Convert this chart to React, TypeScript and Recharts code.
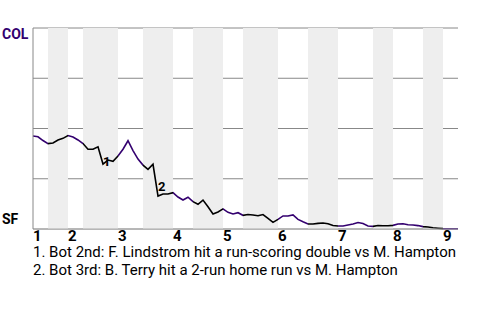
import React from "react";
import {
  LineChart,
  Line,
  XAxis,
  YAxis,
  CartesianGrid,
  ReferenceArea
} from "recharts";

// win probability after each plate appearance (100 = COL wins, 0 = SF wins)
const winProb = [
  46.3, 45.9, 44.0, 42.5, 42.8, 44.3, 45.1, 46.5, 45.8, 44.3,
  42.5, 39.7, 39.7, 40.9, 32.3, 34.3, 33.7, 36.3, 39.7, 43.9,
  39.0, 34.8, 31.8, 29.7, 32.2, 16.4, 17.4, 17.4, 18.1, 15.9,
  14.4, 15.8, 13.6, 12.3, 14.4, 11.1, 7.5, 8.5, 10.0, 8.3,
  7.5, 8.1, 6.8, 7.2, 7.0, 6.6, 7.2, 5.3, 3.3, 4.8,
  6.5, 6.5, 7.0, 4.8, 3.6, 2.5, 2.5, 2.8, 3.0, 2.6,
  1.7, 1.5, 1.5, 2.0, 2.5, 3.2, 2.7, 1.5, 1.3, 1.7,
  1.6, 1.6, 1.8, 2.5, 2.6, 2.1, 2.0, 1.7, 1.2, 1.0,
  0.6, 0.4, 0.2, 0.15, 0.1, 0.1
];

// plate appearance index where each half inning starts (last = end of game)
const halfInnings = [0, 3, 7, 10, 17, 22, 28, 32, 38, 42, 49, 55, 61, 68, 72, 78, 82, 85];
const inningLabels = ["1", "2", "3", "4", "5", "6", "7", "8", "9"];

const noteIndex = [14, 25];
const noteLabels = ["1", "2"];
const footnotes = [
  "1. Bot 2nd: F. Lindstrom hit a run-scoring double vs M. Hampton",
  "2. Bot 3rd: B. Terry hit a 2-run home run vs M. Hampton"
];

const COL = "#33006f";
const SF = "#000000";
const FONT = "Roboto, sans-serif";
const PLOT_H = 201;

const data = winProb.map((v, i) => ({ pa: i, wp: v }));
const lastPa = halfInnings[halfInnings.length - 1];
const inningStarts = halfInnings.filter((_, i) => i % 2 === 0 && i < halfInnings.length - 1);
const bottomHalves = halfInnings
  .slice(0, -1)
  .map((a, i) => ({ a, b: halfInnings[i + 1], bottom: i % 2 === 1 }))
  .filter((h) => h.bottom);

const InningTick = (props: any) => {
  const { x, y, payload } = props;
  const idx = inningStarts.indexOf(payload.value);
  return (
    <text x={x} y={y + 12} textAnchor="start" fontFamily={FONT} fontWeight="bold" fontSize={15} fill="#000">
      {inningLabels[idx]}
    </text>
  );
};

const TeamTick = (props: any) => {
  const { y, payload } = props;
  if (payload.value === 100) {
    return (
      <text x={2} y={y + 11} fontFamily={FONT} fontWeight="bold" fontSize={14} fill={COL}>COL</text>
    );
  }
  if (payload.value === 0) {
    return (
      <text x={2} y={y - 5} fontFamily={FONT} fontWeight="bold" fontSize={14} fill={SF}>SF</text>
    );
  }
  return null;
};

const renderNote = (props: any) => {
  const { x, y, index } = props;
  const n = noteIndex.indexOf(index);
  if (n < 0) return null;
  const prevY = y - ((winProb[index - 1] - winProb[index]) * PLOT_H) / 100;
  const mid = (y + prevY) / 2;
  return (
    <text key={"note" + n} x={x} y={mid + 10.5} fontFamily={FONT} fontWeight="bold" fontSize={13} fill="#000">
      {noteLabels[n]}
    </text>
  );
};

export default function App() {
  return (
    <div style={{ position: "absolute", left: 0, top: 0, width: 480, height: 320, background: "#fff" }}>
      <LineChart width={480} height={250} data={data} margin={{ top: 28, right: 22, left: 0, bottom: 0 }}>
        <defs>
          <linearGradient id="wpStroke" x1="0" y1="0" x2="1" y2="0">
            {halfInnings.slice(0, -1).map((a, i) => {
              const c = i % 2 === 0 ? COL : SF;
              return [
                <stop key={"s" + i} offset={a / lastPa} stopColor={c} />,
                <stop key={"e" + i} offset={halfInnings[i + 1] / lastPa} stopColor={c} />
              ];
            })}
          </linearGradient>
        </defs>
        {bottomHalves.map((h, i) => (
          <ReferenceArea key={i} x1={h.a} x2={h.b} y1={0} y2={100} fill="#eeeeee" fillOpacity={1} stroke="none" />
        ))}
        <CartesianGrid vertical={false} stroke="#888888" strokeWidth={1} />
        <XAxis
          dataKey="pa"
          type="number"
          domain={[0, lastPa]}
          ticks={inningStarts}
          tick={<InningTick />}
          tickLine={false}
          tickSize={0}
          tickMargin={0}
          axisLine={{ stroke: "#aaaaaa" }}
          height={21}
          interval={0}
        />
        <YAxis
          type="number"
          domain={[0, 100]}
          ticks={[0, 25, 50, 75, 100]}
          tick={<TeamTick />}
          tickLine={false}
          axisLine={{ stroke: "#888888" }}
          width={33}
        />
        <Line
          type="linear"
          dataKey="wp"
          stroke="url(#wpStroke)"
          strokeWidth={1.6}
          dot={false}
          isAnimationActive={false}
          label={renderNote}
        />
      </LineChart>
      {footnotes.map((f, i) => (
        <div
          key={f}
          style={{ position: "absolute", left: 33, top: 246 + i * 18, fontFamily: FONT, fontSize: 15, lineHeight: "12px", color: "#000", whiteSpace: "nowrap" }}
        >
          {f}
        </div>
      ))}
    </div>
  );
}
